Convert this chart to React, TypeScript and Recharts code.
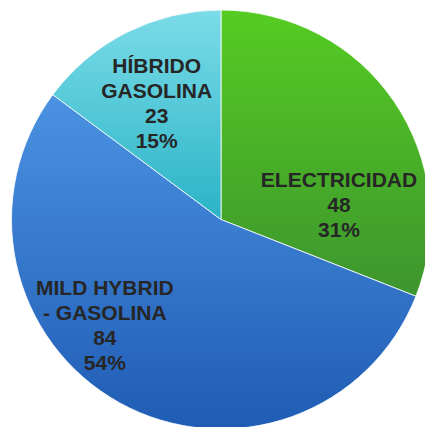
import { Pie, PieChart, Cell } from 'recharts';

const categories = ['ELECTRICIDAD', 'MILD HYBRID - GASOLINA', 'HÍBRIDO GASOLINA'];
const values = [48, 84, 23];
const percents = ['31%', '54%', '15%'];
const labelLines = [['ELECTRICIDAD'], ['MILD HYBRID', '- GASOLINA'], ['HÍBRIDO', 'GASOLINA']];

const gradients = [
  { id: 'gElec', top: '#55cc22', bottom: '#3d952e' },
  { id: 'gMild', top: '#4b92e2', bottom: '#1f5cb4' },
  { id: 'gHib', top: '#7bdce8', bottom: '#2ab3c6' },
];

// nudge labels the way Excel's best-fit does
const labelPlace = [
  { shift: -26.8, frac: 0.568 },
  { shift: -18.9, frac: 0.747 },
  { shift: 2.1, frac: 0.637 },
];

const data = categories.map((name, i) => ({
  name,
  value: values[i],
  pct: percents[i],
  lines: labelLines[i],
}));

const RADIAN = Math.PI / 180;
const LINE_H = 25;

const renderLabel = (props: any) => {
  const { cx, cy, midAngle, outerRadius, index } = props;
  const p = labelPlace[index];
  const a = (midAngle + p.shift) * RADIAN;
  const r = outerRadius * p.frac;
  const x = cx + Math.cos(-a) * r;
  const y = cy + Math.sin(-a) * r;
  const d = data[index];
  const lines = [...d.lines, String(d.value), d.pct];
  const startY = y - ((lines.length - 1) * LINE_H) / 2;
  return (
    <text
      x={x}
      y={startY}
      textAnchor="middle"
      dominantBaseline="central"
      fill="#262626"
      fontFamily="'Liberation Sans', Arial, sans-serif"
      fontWeight="bold"
      fontSize={21}
    >
      {lines.map((t, i) => (
        <tspan key={i} x={x} y={startY + i * LINE_H} dominantBaseline="central">
          {t}
        </tspan>
      ))}
    </text>
  );
};

// absolutely placed so the body margin doesn't push the page past the window
const App = () => {
  return (
    <div style={{ position: 'absolute', left: 0, top: 0, width: 425, height: 427, overflow: 'hidden' }}>
      <PieChart width={425} height={427} margin={{ top: 0, right: 0, bottom: 0, left: 0 }}>
        <defs>
          {gradients.map((g) => (
            <linearGradient key={g.id} id={g.id} x1="0" y1="0" x2="0" y2="1">
              <stop offset="0%" stopColor={g.top} />
              <stop offset="100%" stopColor={g.bottom} />
            </linearGradient>
          ))}
        </defs>
        <Pie
          data={data}
          dataKey="value"
          nameKey="name"
          cx={221}
          cy={219.5}
          outerRadius={209.5}
          startAngle={90}
          endAngle={-270}
          stroke="#ffffff"
          strokeWidth={0.8}
          label={renderLabel}
          labelLine={false}
          isAnimationActive={false}
        >
          {data.map((d, i) => (
            <Cell key={d.name} fill={`url(#${gradients[i].id})`} />
          ))}
        </Pie>
      </PieChart>
    </div>
  );
};

export default App;
